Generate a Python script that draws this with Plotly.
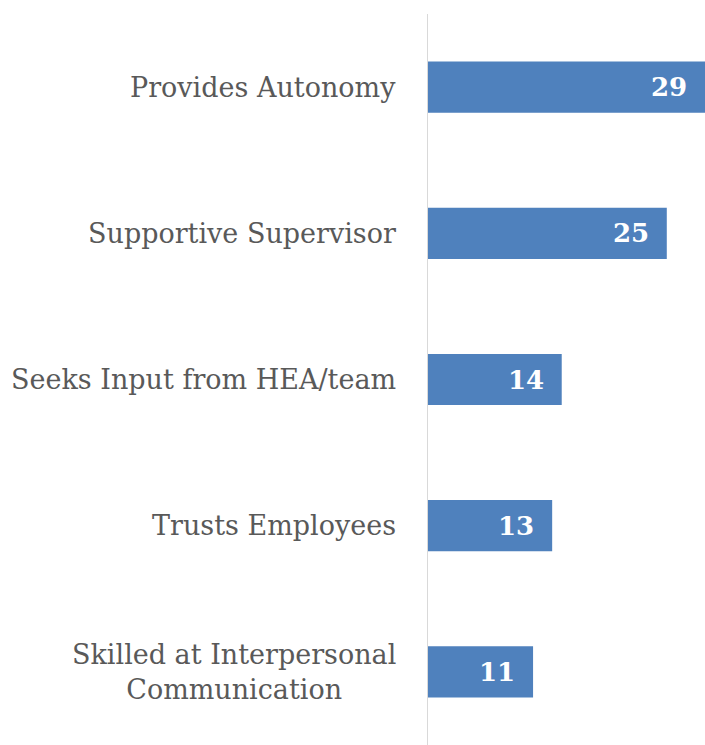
import plotly.graph_objects as go

categories = [
    "Provides Autonomy",
    "Supportive Supervisor",
    "Seeks Input from HEA/team",
    "Trusts Employees",
    "Skilled at Interpersonal<br>Communication",
]
counts = [29, 25, 14, 13, 11]

bar_color = "#4f81bd"
label_color = "#595959"

fig = go.Figure(
    go.Bar(
        x=counts,
        y=categories,
        orientation="h",
        marker=dict(color=bar_color, line=dict(width=0)),
        hoverinfo="x+y",
    )
)

# category labels, centred per line and right-aligned to the axis
for cat in categories:
    fig.add_annotation(
        x=0, xref="paper", y=cat, yref="y",
        text=cat, showarrow=False,
        xanchor="right", yanchor="middle", align="center",
        xshift=-30,
        font=dict(family="DejaVu Serif", size=27, color=label_color),
    )

# value labels inside the bar ends
for cat, v in zip(categories, counts):
    fig.add_annotation(
        x=v, xref="x", y=cat, yref="y",
        text=f"<b>{v}</b>", showarrow=False,
        xanchor="right", yanchor="middle",
        xshift=-16,
        font=dict(family="DejaVu Serif", size=26, color="white"),
    )

fig.update_layout(
    width=705, height=745,
    margin=dict(l=428, r=0, t=14, b=0),
    paper_bgcolor="white", plot_bgcolor="white",
    bargap=0.65,
    showlegend=False,
    xaxis=dict(range=[0, 29], visible=False, showgrid=False, zeroline=False),
    yaxis=dict(
        autorange="reversed", showticklabels=False, ticks="",
        showgrid=False, zeroline=False,
        showline=True, linecolor="#d9d9d9", linewidth=1,
    ),
)

fig.write_html("out.html")
